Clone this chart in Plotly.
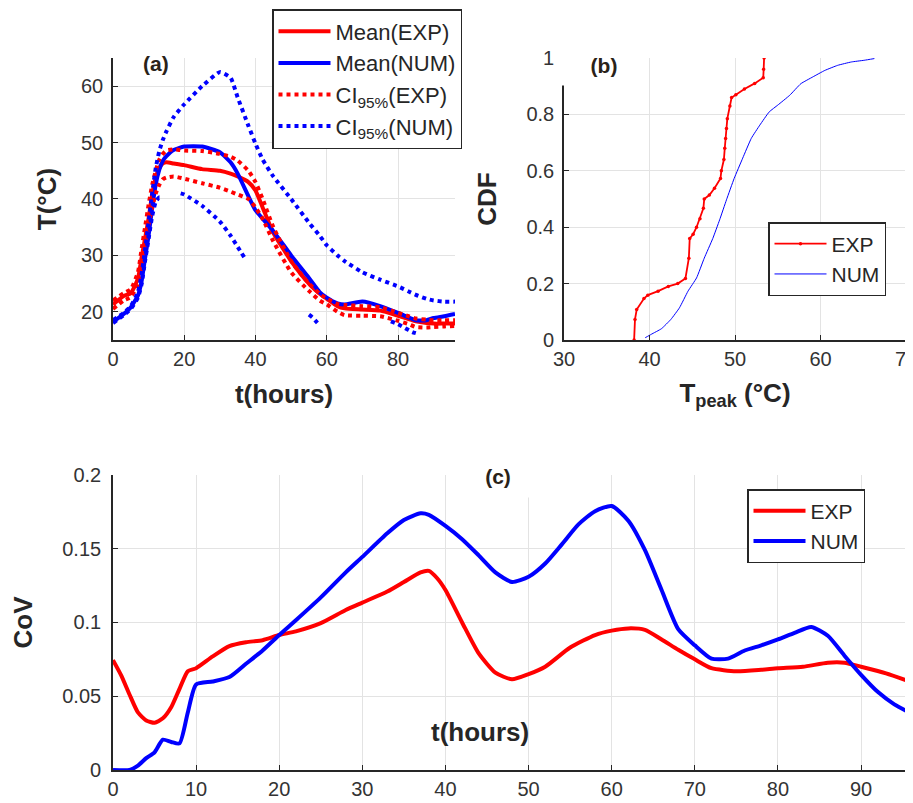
import plotly.graph_objects as go

# ---------------- Panel (a) data ----------------
t_a = [0, 3, 5, 7, 8, 9, 10, 11, 12, 13, 14, 15, 17, 20, 25, 30, 33, 35, 38, 40, 42, 45,
       50, 55, 58, 60, 63, 65, 70, 75, 80, 83, 85, 88, 90, 93, 96]
mean_exp = [21.3, 22.8, 23.3, 25.9, 29.5, 33.0, 36.6, 40.8, 43.8, 45.5, 46.3, 46.5, 46.3, 46.0,
            45.3, 45.0, 44.5, 44.0, 43.0, 41.5, 38.5, 34.0, 29.0, 25.0, 23.2, 22.3, 21.0, 20.6,
            20.4, 20.2, 19.3, 18.7, 18.3, 18.0, 17.9, 17.9, 17.9]
mean_num = [18.2, 19.6, 20.8, 22.9, 25.3, 29.5, 33.6, 38.4, 42.6, 45.2, 46.8, 47.6, 48.7, 49.3,
            49.3, 48.3, 46.5, 44.5, 40.5, 38.0, 36.5, 34.3, 30.0, 26.0, 23.5, 22.5, 21.5, 21.3,
            21.8, 21.0, 19.8, 19.0, 18.5, 18.5, 18.9, 19.2, 19.6]
ci_exp_up = [22.0, 23.3, 24.0, 27.0, 31.0, 35.0, 39.0, 42.5, 45.0, 47.0, 48.0, 48.6, 48.8, 48.6,
             48.5, 48.0, 47.5, 46.8, 45.0, 43.0, 40.0, 35.0, 29.0, 25.0, 23.2, 22.3, 21.4, 21.2,
             21.0, 20.8, 19.8, 19.2, 18.8, 18.6, 18.5, 18.5, 18.5]
ci_exp_lo = [20.5, 22.0, 22.6, 25.0, 28.5, 32.0, 35.5, 38.5, 41.0, 42.5, 43.5, 43.8, 44.0, 43.6,
             42.8, 42.0, 41.3, 40.8, 40.0, 38.5, 36.5, 32.5, 27.0, 23.7, 22.0, 21.3, 20.0, 19.4,
             19.3, 19.2, 18.4, 17.8, 17.3, 17.2, 17.3, 17.4, 17.5]
ci_num_up = [18.5, 19.8, 21.0, 23.5, 26.5, 31.0, 36.0, 41.0, 45.5, 48.5, 50.5, 52.0, 54.5, 56.8,
             60.0, 62.5, 61.5, 58.0, 53.0, 49.8, 47.0, 44.0, 40.0, 35.8, 33.5, 31.8, 30.0, 29.0,
             27.0, 25.7, 24.5, 23.6, 23.0, 22.3, 22.0, 21.8, 21.8]
t_ci_num_lo = [0, 3, 5, 7, 8, 9, 10, 11, 12, 13, 13.8, 16, 19, 20, 25, 30, 33, 35, 37, 45,
               55, 56, 57, 58, 66, 78, 80, 82, 84, 85]
ci_num_lo = [18.0, 19.4, 20.5, 22.5, 24.8, 29.0, 33.0, 37.0, 39.5, 40.3, 40.2, None, 41.0, 40.8,
             38.8, 36.0, 33.5, 31.5, 29.5, None, 19.5, 19.0, 18.3, 17.6, None, 18.3, 17.8, 17.1,
             16.4, 16.2]

# ---------------- Panel (b) data ----------------
tpeak_exp = [38.2, 38.3, 38.5, 39.35, 39.8, 41.0, 42.2, 43.3, 44.2, 44.6, 44.7, 45.1, 45.5, 45.9,
             46.3, 46.4, 47.0, 47.6, 48.3, 48.4, 48.7, 48.8, 48.9, 49.0, 49.1, 49.4, 49.6, 50.1,
             51.1, 52.3, 53.3, 53.35, 53.4]
cdf_exp = [0.0, 0.073, 0.108, 0.147, 0.159, 0.173, 0.19, 0.2, 0.218, 0.29, 0.36, 0.375, 0.40,
           0.43, 0.467, 0.5, 0.514, 0.538, 0.573, 0.6, 0.64, 0.68, 0.715, 0.75, 0.785, 0.83, 0.86,
           0.87, 0.89, 0.91, 0.93, 0.96, 1.0]
tpeak_num = [39.5, 40.2, 41.4, 42.5, 43.5, 44.5, 45.5, 46.4, 47.4, 48.2, 49.0, 49.9, 50.9, 51.9,
             52.9, 54.0, 55.0, 56.4, 57.7, 59.1, 60.5, 62.0, 63.6, 65.1, 66.3]
cdf_num = [0.008, 0.02, 0.04, 0.073, 0.114, 0.173, 0.22, 0.29, 0.36, 0.426, 0.497, 0.573, 0.645,
           0.715, 0.762, 0.809, 0.833, 0.868, 0.909, 0.933, 0.956, 0.974, 0.986, 0.992, 0.998]

# ---------------- Panel (c) data ----------------
t_c_exp = [0, 1, 2, 3, 4, 5, 6, 7, 8, 9, 10, 12, 14, 16, 18, 20, 22, 25, 28, 30, 33, 35, 37, 38,
           39, 40, 42, 44, 46, 48, 50, 52, 55, 58, 60, 62, 64, 66, 68, 70, 72, 75, 78, 80, 83,
           86, 88, 90, 93, 96]
cov_exp = [0.0745, 0.064, 0.051, 0.039, 0.0336, 0.032, 0.035, 0.0425, 0.055, 0.067, 0.069, 0.077,
           0.084, 0.0866, 0.088, 0.0915, 0.094, 0.0996, 0.1085, 0.1135, 0.121, 0.1275, 0.134,
           0.135, 0.13, 0.122, 0.1, 0.079, 0.066, 0.0615, 0.065, 0.070, 0.083, 0.0915, 0.0945,
           0.096, 0.095, 0.0885, 0.0815, 0.075, 0.069, 0.067, 0.068, 0.069, 0.070, 0.0727,
           0.0727, 0.070, 0.0655, 0.0597]
t_c_num = [0, 2, 3, 4, 5, 6, 7, 8, 9, 10, 12, 14, 16, 18, 20, 22, 25, 28, 30, 33, 35, 37, 38, 40,
           42, 44, 46, 48, 50, 52, 54, 56, 58, 60, 62, 64, 66, 68, 70, 72, 74, 76, 78, 80, 82,
           84, 86, 88, 90, 92, 94, 96]
cov_num = [0.0, 0.0, 0.003, 0.008, 0.012, 0.0205, 0.019, 0.018, 0.039, 0.058, 0.060, 0.063,
           0.072, 0.081, 0.0915, 0.1015, 0.117, 0.134, 0.1445, 0.1605, 0.1695, 0.174, 0.173,
           0.1655, 0.1565, 0.1455, 0.134, 0.1275, 0.131, 0.14, 0.153, 0.1665, 0.1755, 0.179,
           0.169, 0.149, 0.122, 0.0955, 0.0845, 0.0755, 0.0755, 0.081, 0.0845, 0.0885, 0.093,
           0.097, 0.091, 0.0775, 0.0645, 0.053, 0.0445, 0.0385]

RED = "#ff0000"
BLUE = "#0000ff"
FONT = "Liberation Sans, Arial, sans-serif"
TICKC = "#333333"
AXC = "#262626"
GRIDC = "#e3e3e3"
LBLC = "#2a2218"

fig = go.Figure()

# Panel (a)
fig.add_trace(go.Scatter(x=t_a, y=mean_exp, mode="lines", name="Mean(EXP)",
                         line=dict(color=RED, width=4, shape="spline", smoothing=0.5),
                         xaxis="x", yaxis="y", legend="legend"))
fig.add_trace(go.Scatter(x=t_a, y=mean_num, mode="lines", name="Mean(NUM)",
                         line=dict(color=BLUE, width=4, shape="spline", smoothing=0.5),
                         xaxis="x", yaxis="y", legend="legend"))
fig.add_trace(go.Scatter(x=t_a, y=ci_exp_up, mode="lines", name="CI<sub>95%</sub>(EXP)",
                         legendgroup="ciexp",
                         line=dict(color=RED, width=4, dash="dot", shape="spline", smoothing=0.5),
                         xaxis="x", yaxis="y", legend="legend"))
fig.add_trace(go.Scatter(x=t_a, y=ci_exp_lo, mode="lines", name="CI<sub>95%</sub>(EXP)",
                         legendgroup="ciexp", showlegend=False,
                         line=dict(color=RED, width=4, dash="dot", shape="spline", smoothing=0.5),
                         xaxis="x", yaxis="y"))
fig.add_trace(go.Scatter(x=t_a, y=ci_num_up, mode="lines", name="CI<sub>95%</sub>(NUM)",
                         legendgroup="cinum",
                         line=dict(color=BLUE, width=4, dash="dot", shape="spline", smoothing=0.5),
                         xaxis="x", yaxis="y", legend="legend"))
fig.add_trace(go.Scatter(x=t_ci_num_lo, y=ci_num_lo, mode="lines", name="CI<sub>95%</sub>(NUM)",
                         legendgroup="cinum", showlegend=False, connectgaps=False,
                         line=dict(color=BLUE, width=4, dash="dot", shape="spline", smoothing=0.5),
                         xaxis="x", yaxis="y"))

# Panel (b)
fig.add_trace(go.Scatter(x=tpeak_exp, y=cdf_exp, mode="lines+markers", name="EXP",
                         line=dict(color=RED, width=1.8), marker=dict(color=RED, size=3.5),
                         xaxis="x2", yaxis="y2", legend="legend2"))
fig.add_trace(go.Scatter(x=tpeak_num, y=cdf_num, mode="lines", name="NUM",
                         line=dict(color=BLUE, width=1, shape="spline", smoothing=0.4),
                         xaxis="x2", yaxis="y2", legend="legend2"))

# Panel (c)
fig.add_trace(go.Scatter(x=t_c_exp, y=cov_exp, mode="lines", name="EXP",
                         line=dict(color=RED, width=4, shape="spline", smoothing=0.6),
                         xaxis="x3", yaxis="y3", legend="legend3"))
fig.add_trace(go.Scatter(x=t_c_num, y=cov_num, mode="lines", name="NUM",
                         line=dict(color=BLUE, width=4, shape="spline", smoothing=0.6),
                         xaxis="x3", yaxis="y3", legend="legend3"))

tickfont = dict(family=FONT, size=20, color=TICKC)
titlefont = dict(family=FONT, size=26, color="#262626")


def ax(**kw):
    d = dict(showline=True, linecolor=AXC, linewidth=1.6, mirror=False, ticks="inside",
             ticklen=5, tickcolor=AXC, showgrid=True, gridcolor=GRIDC, gridwidth=1,
             zeroline=False, tickfont=tickfont, automargin=False)
    d.update(kw)
    return d


def legend_box(x_px, y_px, size):
    return dict(x=x_px / 913, y=1 - y_px / 803, xanchor="left", yanchor="top",
                bgcolor="white", bordercolor="#262626", borderwidth=1.5,
                font=dict(family=FONT, size=size, color="#262626"), itemwidth=52,
                tracegroupgap=0)


fig.update_layout(
    width=913, height=803, margin=dict(l=0, r=0, t=0, b=0),
    paper_bgcolor="white", plot_bgcolor="white",
    xaxis=ax(domain=[0.115, 0.4896], range=[0, 96], dtick=20, tick0=0, anchor="y",
             title=dict(text="<b>t(hours)</b>", font=titlefont, standoff=16)),
    yaxis=ax(domain=[0.5866, 0.9377], range=[15, 65], dtick=10, tick0=0, anchor="x",
             ticklabelstandoff=4,
             title=dict(text="<b>T(°C)</b>", font=titlefont, standoff=17)),
    xaxis2=ax(domain=[0.609, 0.9836], range=[30, 70], dtick=10, anchor="y2",
              title=dict(text="<b>T<sub>peak</sub> (°C)</b>", font=titlefont, standoff=15)),
    yaxis2=ax(domain=[0.5866, 0.9377], range=[0, 1], dtick=0.2, anchor="x2",
              ticklabelstandoff=4,
              title=dict(text="<b>CDF</b>", font=titlefont, standoff=22)),
    xaxis3=ax(domain=[0.115, 0.989], range=[0, 96], dtick=10, anchor="y3"),
    yaxis3=ax(domain=[0.0511, 0.4184], range=[0, 0.2], dtick=0.05, anchor="x3",
              ticklabelstandoff=6,
              title=dict(text="<b>CoV</b>", font=titlefont, standoff=22)),
    legend=legend_box(264, 1, 22),
    legend2=legend_box(760, 214, 21),
    legend3=legend_box(739, 481, 21),
    annotations=[
        dict(text="<b>(a)</b>", x=148 / 913, y=1 - 55 / 803, xref="paper", yref="paper",
             xanchor="center", yanchor="middle", showarrow=False,
             font=dict(family=FONT, size=21, color=LBLC), bgcolor="white"),
        dict(text="<b>(b)</b>", x=596 / 913, y=1 - 57 / 803, xref="paper", yref="paper",
             xanchor="center", yanchor="middle", showarrow=False,
             font=dict(family=FONT, size=21, color=LBLC),
             bgcolor="white", width=84, height=38),
        dict(text="<b>(c)</b>", x=490 / 913, y=1 - 468 / 803, xref="paper", yref="paper",
             xanchor="center", yanchor="middle", showarrow=False,
             font=dict(family=FONT, size=21, color=LBLC),
             bgcolor="white", width=82, height=40),
        dict(text="<b>t(hours)</b>", x=472 / 913, y=1 - 724 / 803, xref="paper",
             yref="paper", xanchor="center", yanchor="middle", showarrow=False,
             font=titlefont),
    ],
)

fig.write_html("out.html")
